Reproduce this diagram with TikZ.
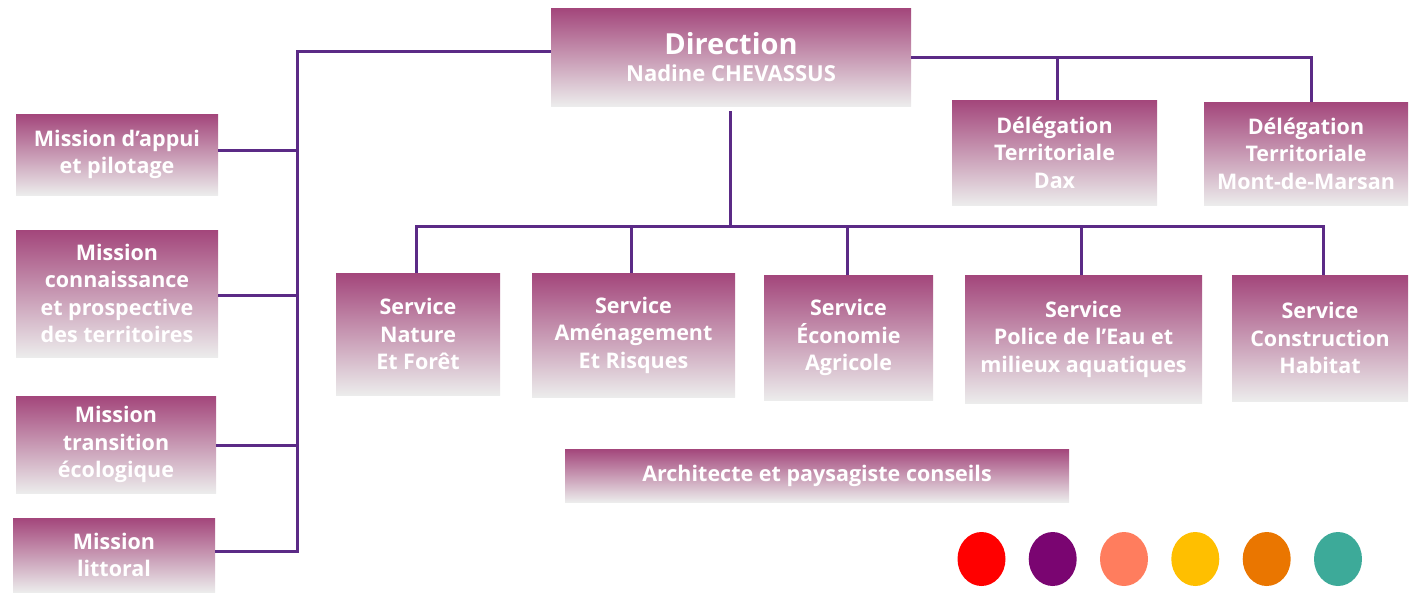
\documentclass[tikz,border=0pt]{standalone}
\usepackage{fontspec}
\setmainfont{Open Sans}
\usetikzlibrary{shapes.geometric}
\definecolor{boxtop}{HTML}{A3467B}
\definecolor{boxbot}{HTML}{ECECEC}
\definecolor{linec}{HTML}{5B2A86}
\definecolor{cred}{HTML}{FF0000}
\definecolor{cpurple}{HTML}{7A0571}
\definecolor{csalmon}{HTML}{FF7D5E}
\definecolor{cyellow}{HTML}{FFBF00}
\definecolor{corange}{HTML}{EA7600}
\definecolor{cteal}{HTML}{3DAA99}
\tikzset{
  orgbox/.style={rectangle, inner sep=0pt, top color=boxtop, bottom color=boxbot,
    text=white, align=center, font=\fontsize{21.5}{27.5}\selectfont\bfseries},
  link/.style={draw=linec, line width=3pt},
  dot/.style={ellipse, inner sep=0pt, minimum width=48pt, minimum height=54pt}
}
\begin{document}
\begin{tikzpicture}[x=1pt,y=-1pt]
\useasboundingbox (0,0) rectangle (1409,595);
% boxes
\node[orgbox, minimum width=360pt, minimum height=98pt] (dir) at (731,57)
  {{\fontsize{29}{34}\selectfont Direction}\\[0pt]{\fontsize{22}{27}\selectfont Nadine CHEVASSUS}};
\node[orgbox, minimum width=205pt, minimum height=105pt] (dax) at (1054.5,152.5) {Délégation\\Territoriale\\Dax};
\node[orgbox, minimum width=204pt, minimum height=103pt] (mont) at (1306,153.5) {Délégation\\Territoriale\\Mont-de-Marsan};
\node[orgbox, minimum width=202pt, minimum height=81pt] (m1) at (117,154.5) {Mission d’appui\\et pilotage};
\node[orgbox, minimum width=202pt, minimum height=127pt] (m2) at (117,293.5) {Mission\\connaissance\\et prospective\\des territoires};
\node[orgbox, minimum width=200pt, minimum height=97pt] (m3) at (116,444.5) {Mission\\transition\\écologique};
\node[orgbox, minimum width=202pt, minimum height=74pt] (m4) at (114,555) {Mission\\littoral};
\node[orgbox, minimum width=164pt, minimum height=122pt] (s1) at (418,334) {Service\\Nature\\Et Forêt};
\node[orgbox, minimum width=203pt, minimum height=124pt] (s2) at (633.5,335) {Service\\Aménagement\\Et Risques};
\node[orgbox, minimum width=169pt, minimum height=125pt] (s3) at (848.5,337.5) {Service\\Économie\\Agricole};
\node[orgbox, minimum width=237pt, minimum height=128pt] (s4) at (1083.5,339) {Service\\Police de l’Eau et\\milieux aquatiques};
\node[orgbox, minimum width=176pt, minimum height=126pt] (s5) at (1320,338) {Service\\Construction\\Habitat};
\node[orgbox, minimum width=504pt, minimum height=53pt] (arch) at (817,475.5) {Architecte et paysagiste conseils};
% dots
\node[dot, fill=cred] (c1) at (981.5,559) {};
\node[dot, fill=cpurple] (c2) at (1052.7,559) {};
\node[dot, fill=csalmon] (c3) at (1124,559) {};
\node[dot, fill=cyellow] (c4) at (1195.3,559) {};
\node[dot, fill=corange] (c5) at (1266.7,559) {};
\node[dot, fill=cteal] (c6) at (1338,559) {};
% connectors
\coordinate (spT) at (297,51);
\coordinate (spB) at (297,551);
\coordinate (bus) at (730,226);
\draw[link] ([yshift=6pt]dir.west) -- (spT) -- (spB) -- (m4.east |- spB);
\draw[link] ([yshift=4.5pt]m1.east) -- ([yshift=4.5pt]m1.east -| spT);
\draw[link] ([yshift=-1.5pt]m2.east) -- ([yshift=-1.5pt]m2.east -| spT);
\draw[link] ([yshift=-0.5pt]m3.east) -- ([yshift=-0.5pt]m3.east -| spT);
\draw[link] (dir.east) -- ([xshift=5pt]mont.north |- dir.east) -- ([xshift=5pt]mont.north);
\draw[link] ([xshift=2.5pt]dax.north |- dir.east) -- ([xshift=2.5pt]dax.north);
\draw[link] ([yshift=-5pt]dir.south -| bus) -- (bus);
\draw[link] ([xshift=-2pt]s1.north) -- ([xshift=-2pt]s1.north |- bus) -- ([xshift=3pt]s5.north |- bus) -- ([xshift=3pt]s5.north);
\draw[link] ([xshift=-2.5pt]s2.north |- bus) -- ([xshift=-2.5pt]s2.north);
\draw[link] ([xshift=-1.5pt]s3.north |- bus) -- ([xshift=-1.5pt]s3.north);
\draw[link] ([xshift=-2.5pt]s4.north |- bus) -- ([xshift=-2.5pt]s4.north);
\end{tikzpicture}
\end{document}
